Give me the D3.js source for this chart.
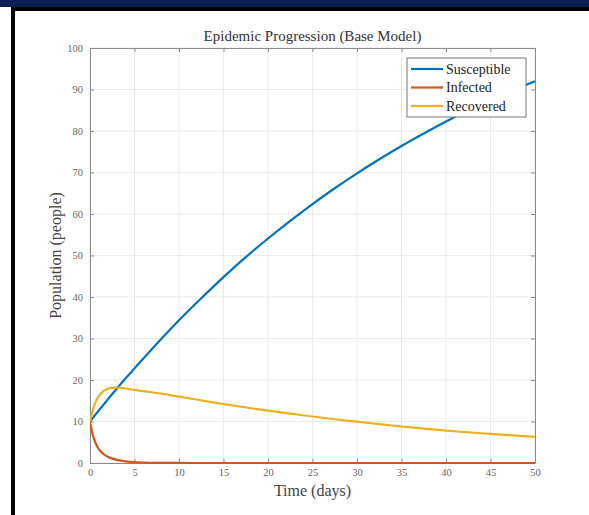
<!DOCTYPE html>
<html><head><meta charset="utf-8">
<script src="https://cdn.jsdelivr.net/npm/d3@7"></script>
<style>html,body{margin:0;padding:0;background:#fff;}svg{display:block;}</style>
</head><body>
<script>
const time = [0,0.25,0.5,0.75,1,1.5,2,2.5,3,3.5,4,5,6,8,10,12.5,15,17.5,20,22.5,25,27.5,30,32.5,35,37.5,40,42.5,45,47.5,50];
const susceptible = [10,10.67,11.34,12.01,12.68,14.0,15.32,16.62,17.9,19.16,20.4,22.8,25.2,29.9,34.4,39.7,44.8,49.6,54.1,58.35,62.4,66.2,69.8,73.2,76.4,79.4,82.3,85.0,87.5,89.8,92.0];
const infected = [10,7.3,5.5,4.2,3.3,2.2,1.5,1.05,0.75,0.55,0.4,0.2,0.1,0.03,0.01,0,0,0,0,0,0,0,0,0,0,0,0,0,0,0,0];
const recovered = [10,12.3,14.0,15.3,16.2,17.3,17.9,18.1,18.15,18.1,17.95,17.6,17.3,16.7,16.0,15.1,14.2,13.4,12.6,11.9,11.2,10.55,9.95,9.35,8.8,8.3,7.8,7.4,7.0,6.65,6.3];
const seriesNames = ["Susceptible","Infected","Recovered"];
const seriesColors = ["#0072BD","#D95319","#EDB120"];
const xTicks = [0,5,10,15,20,25,30,35,40,45,50];
const yTicks = [0,10,20,30,40,50,60,70,80,90,100];

const W = 589, H = 515;
const svg = d3.select("body").append("svg").attr("width", W).attr("height", H);
svg.append("rect").attr("width", W).attr("height", H).attr("fill", "#fff");
// frame
svg.append("rect").attr("x",0).attr("y",0).attr("width",W).attr("height",7).attr("fill","#0b1f57");
svg.append("rect").attr("x",11).attr("y",7).attr("width",W-11).attr("height",4).attr("fill","#000");
svg.append("rect").attr("x",11).attr("y",7).attr("width",4).attr("height",H-7).attr("fill","#000");

const L = 90, R = 535, T = 48, B = 463;
const x = d3.scaleLinear().domain([0,50]).range([L,R]);
const y = d3.scaleLinear().domain([0,100]).range([B,T]);
const font = "'Liberation Serif','DejaVu Serif',serif";

// grid
const g = svg.append("g");
g.selectAll(".gx").data(xTicks).enter().append("line")
  .attr("x1", d=>x(d)).attr("x2", d=>x(d)).attr("y1", T).attr("y2", B)
  .attr("stroke", "#e9e9e9").attr("stroke-width", 1);
g.selectAll(".gy").data(yTicks).enter().append("line")
  .attr("x1", L).attr("x2", R).attr("y1", d=>y(d)).attr("y2", d=>y(d))
  .attr("stroke", "#e9e9e9").attr("stroke-width", 1);

// axes
const axisColor = "#8a8a8a";
function styleAxis(sel){
  sel.select(".domain").attr("stroke", axisColor);
  sel.selectAll(".tick line").attr("stroke", axisColor);
  sel.selectAll(".tick text").attr("fill","#666").attr("font-family",font).attr("font-size","10.5px");
}
const xa = svg.append("g").attr("transform",`translate(0,${B})`)
  .call(d3.axisBottom(x).tickValues(xTicks).tickSizeInner(-4).tickSizeOuter(0).tickPadding(6));
styleAxis(xa);
const xt = svg.append("g").attr("transform",`translate(0,${T})`)
  .call(d3.axisTop(x).tickValues(xTicks).tickSizeInner(-4).tickSizeOuter(0).tickFormat(""));
styleAxis(xt);
const ya = svg.append("g").attr("transform",`translate(${L},0)`)
  .call(d3.axisLeft(y).tickValues(yTicks).tickSizeInner(-4).tickSizeOuter(0).tickPadding(7));
styleAxis(ya);
const yr = svg.append("g").attr("transform",`translate(${R},0)`)
  .call(d3.axisRight(y).tickValues(yTicks).tickSizeInner(-4).tickSizeOuter(0).tickFormat(""));
styleAxis(yr);

// lines
const allSeries = [susceptible, infected, recovered];
const line = d3.line().x((d,i)=>x(time[i])).y(d=>y(d)).curve(d3.curveMonotoneX);
const clip = svg.append("clipPath").attr("id","clip").append("rect")
  .attr("x",L).attr("y",T-2).attr("width",R-L+1).attr("height",B-T+3);
allSeries.forEach((s,i)=>{
  svg.append("path").datum(s).attr("d", line).attr("fill","none")
    .attr("stroke", seriesColors[i]).attr("stroke-width", 2.2)
    .attr("clip-path","url(#clip)");
});

// title & labels
svg.append("text").attr("x",(L+R)/2).attr("y",41).attr("text-anchor","middle")
  .attr("font-family",font).attr("font-size","15px").attr("fill","#333")
  .text("Epidemic Progression (Base Model)");
svg.append("text").attr("x",(L+R)/2).attr("y",496).attr("text-anchor","middle")
  .attr("font-family",font).attr("font-size","16px").attr("fill","#444")
  .text("Time (days)");
svg.append("text").attr("transform",`translate(61,${(T+B)/2}) rotate(-90)`).attr("text-anchor","middle")
  .attr("font-family",font).attr("font-size","16px").attr("fill","#444")
  .text("Population (people)");

// legend
const lg = svg.append("g");
lg.append("rect").attr("x",407).attr("y",58).attr("width",119).attr("height",59)
  .attr("fill","#fff").attr("stroke","#777").attr("stroke-width",1);
seriesNames.forEach((n,i)=>{
  const yy = 69 + i*18.5;
  lg.append("line").attr("x1",411).attr("x2",443).attr("y1",yy).attr("y2",yy)
    .attr("stroke",seriesColors[i]).attr("stroke-width",2.2);
  lg.append("text").attr("x",446).attr("y",yy+4.5).attr("font-family",font)
    .attr("font-size","14px").attr("fill","#222").text(n);
});
</script>
</body></html>
